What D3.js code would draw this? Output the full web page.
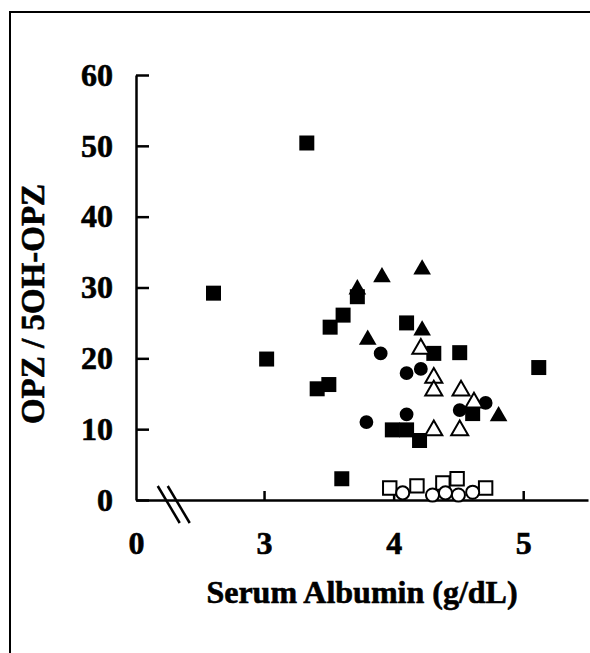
<!DOCTYPE html>
<html>
<head>
<meta charset="utf-8">
<script src="https://cdn.jsdelivr.net/npm/d3@7"></script>
<style>
  body { margin: 0; background: #fff; }
  text { font-family: "Liberation Serif", "Times New Roman", serif; font-weight: bold; fill: #000; }
</style>
</head>
<body>
<div id="chart"></div>
<script>
// [albumin g/dL, OPZ / 5OH-OPZ ratio]
var filledSquares = [
  [2.61, 29.2], [3.02, 19.9], [3.33, 50.4], [3.41, 15.7], [3.50, 16.3],
  [3.51, 24.4], [3.61, 26.1], [3.72, 28.7], [3.60, 3.0], [3.99, 9.9],
  [4.10, 9.9], [4.10, 25.0], [4.20, 8.4], [4.31, 20.7], [4.51, 20.8],
  [4.61, 12.2], [5.12, 18.7]
];
var filledCircles = [
  [3.90, 20.7], [4.10, 17.9], [4.21, 18.5], [3.79, 11.0], [4.10, 12.1],
  [4.51, 12.7], [4.71, 13.7]
];
var filledTriangles = [
  [3.72, 30.1], [3.91, 31.8], [4.22, 32.9], [4.22, 24.3], [3.80, 23.0],
  [4.81, 12.2]
];
var openTriangles = [
  [4.21, 21.7], [4.31, 17.6], [4.31, 15.8], [4.52, 15.8], [4.62, 14.1],
  [4.31, 10.2], [4.51, 10.2]
];
var openSquares = [
  [3.97, 1.7], [4.18, 2.0], [4.38, 2.4], [4.49, 3.0], [4.71, 1.7]
];
var openCircles = [
  [4.07, 1.0], [4.30, 0.7], [4.40, 1.0], [4.50, 0.7], [4.61, 1.1]
];

var xTicks = [0, 3, 4, 5];
var yTicks = [0, 10, 20, 30, 40, 50, 60];

var width = 590, height = 653;

var svg = d3.select('#chart').append('svg')
  .attr('width', width)
  .attr('height', height);

// frame (left and top edges of the figure box)
svg.append('path')
  .attr('d', 'M10,' + height + 'V12H' + width)
  .attr('fill', 'none')
  .attr('stroke', '#000')
  .attr('stroke-width', 2);

// broken x axis: 0 at the origin, then a linear run from 2.4 to 5.5
var x = d3.scaleLinear().domain([0, 2.4, 5.5]).range([136, 186.3, 588]);
var y = d3.scaleLinear().domain([0, 60]).range([500, 75]);

var xAxis = svg.append('g')
  .attr('transform', 'translate(0,' + y(0) + ')')
  .call(d3.axisBottom(x).tickValues(xTicks).tickFormat(d3.format('d'))
    .tickSizeInner(-9).tickSizeOuter(0).tickPadding(31));

var yAxis = svg.append('g')
  .attr('transform', 'translate(' + x(0) + ',0)')
  .call(d3.axisLeft(y).tickValues(yTicks)
    .tickSizeInner(-13).tickSizeOuter(0).tickPadding(23));

[xAxis, yAxis].forEach(function(ax) {
  ax.select('.domain').attr('stroke-width', 2.5);
  ax.selectAll('.tick line').attr('stroke-width', 2.5);
  ax.selectAll('.tick text')
    .style('font-family', '"Liberation Serif", serif')
    .style('font-weight', 'bold')
    .style('font-size', '32px')
    .attr('stroke', '#000')
    .attr('stroke-width', 0.6);
});
xAxis.select('.tick line').remove();

// axis break marks
var bx = x(1.8);
[-5, 5].forEach(function(off) {
  svg.append('line')
    .attr('x1', bx + off - 11).attr('y1', y(0) - 14)
    .attr('x2', bx + off + 11).attr('y2', y(0) + 23)
    .attr('stroke', '#000')
    .attr('stroke-width', 2.5);
});

// axis titles
svg.append('text')
  .attr('x', 362)
  .attr('y', 603)
  .attr('text-anchor', 'middle')
  .attr('stroke', '#000')
  .attr('stroke-width', 0.6)
  .style('font-size', '32px')
  .text('Serum Albumin (g/dL)');

svg.append('text')
  .attr('transform', 'translate(44,304)rotate(-90)')
  .attr('text-anchor', 'middle')
  .attr('stroke', '#000')
  .attr('stroke-width', 0.6)
  .style('font-size', '33px')
  .text('OPZ / 5OH-OPZ');

// markers
function drawSeries(data, type, size, open, dy) {
  svg.append('g').selectAll('path').data(data).enter()
    .append('path')
      .attr('transform', function(d) {
        return 'translate(' + x(d[0]) + ',' + (y(d[1]) + dy) + ')';
      })
      .attr('d', d3.symbol().type(type).size(size))
      .attr('fill', open ? '#fff' : '#000')
      .attr('stroke', '#000')
      .attr('stroke-width', open ? 2 : 0);
}

drawSeries(filledSquares, d3.symbolSquare, 225, false, 0);
drawSeries(filledTriangles, d3.symbolTriangle, 135, false, 2.5);
drawSeries(filledCircles, d3.symbolCircle, 150, false, 0);
drawSeries(openTriangles, d3.symbolTriangle, 125, true, 2.5);
drawSeries(openSquares, d3.symbolSquare, 180, true, 0);
drawSeries(openCircles, d3.symbolCircle, 135, true, 0);
</script>
</body>
</html>
